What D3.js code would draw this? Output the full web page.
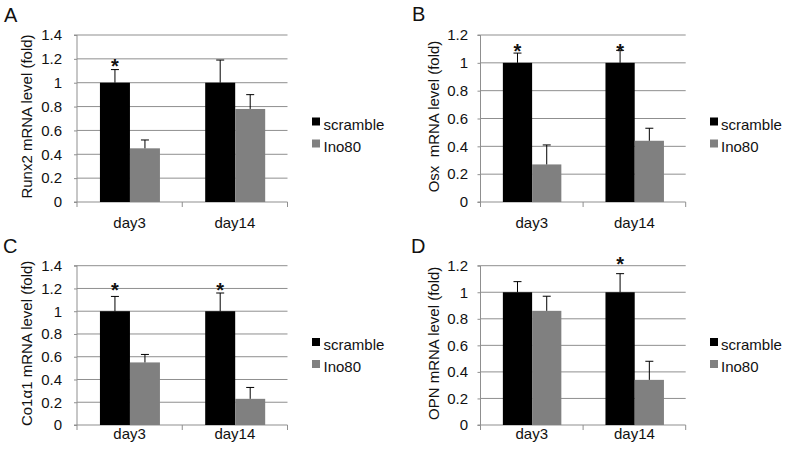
<!DOCTYPE html>
<html>
<head>
<meta charset="utf-8">
<script src="https://cdn.jsdelivr.net/npm/d3@7/dist/d3.min.js"></script>
<style>
  html, body { margin: 0; padding: 0; background: #fff; }
  svg { display: block; }
  text { font-family: "Liberation Sans", Arial, Helvetica, sans-serif; fill: #111; }
</style>
</head>
<body>
<svg id="chart" width="787" height="456"></svg>
<script>
// ---------------- DATA ----------------
const categories = ["day3", "day14"];
const seriesNames = ["scramble", "Ino80"];
const panelLetters = ["A", "B", "C", "D"];
const yLabels = ["Runx2 mRNA level (fold)", "Osx  mRNA level (fold)", "Co1\u03b11 mRNA level (fold)", "OPN mRNA level (fold)"];
const yMaxes = [1.4, 1.2, 1.4, 1.2];

const scrambleA = [1.0, 1.0];   const scrambleErrA = [0.11, 0.19];
const ino80A    = [0.45, 0.78]; const ino80ErrA    = [0.07, 0.12];
const scrambleB = [1.0, 1.0];   const scrambleErrB = [0.07, 0.09];
const ino80B    = [0.27, 0.44]; const ino80ErrB    = [0.14, 0.09];
const scrambleC = [1.0, 1.0];   const scrambleErrC = [0.13, 0.16];
const ino80C    = [0.55, 0.23]; const ino80ErrC    = [0.07, 0.10];
const scrambleD = [1.0, 1.0];   const scrambleErrD = [0.08, 0.14];
const ino80D    = [0.86, 0.34]; const ino80ErrD    = [0.11, 0.14];

// significance asterisks over the scramble bar, per category
const starsA = [true, false];
const starsB = [true, true];
const starsC = [true, true];
const starsD = [false, true];
// height (data units) at which the asterisks sit
const starLevels = [1.18, 1.12, 1.23, 1.25];

// ---------------- LAYOUT / STYLE ----------------
const colors = { scramble: "#000000", Ino80: "#808080" };
const gridColor = "#8f8f8f";

const layouts = [
  { left: 77,    right: 287.5, top: 35,    bottom: 202, ylabX: 32,  tickEnd: 62,  letter: [4, 21.5],  xlabY: 228, legSq: 312, legTx: 323.5, legY: [129.5, 151.5] },
  { left: 480.5, right: 685.7, top: 35,    bottom: 202, ylabX: 439, tickEnd: 468, letter: [412, 20.5], xlabY: 228, legSq: 710, legTx: 721,   legY: [129.5, 151.5] },
  { left: 77,    right: 287.5, top: 265.7, bottom: 425, ylabX: 32,  tickEnd: 62,  letter: [3, 253],   xlabY: 439, legSq: 312, legTx: 323.5, legY: [350, 372] },
  { left: 480.5, right: 685.7, top: 265.7, bottom: 425, ylabX: 439, tickEnd: 468, letter: [411, 253], xlabY: 439, legSq: 710, legTx: 721,   legY: [350, 372] }
];

const panelData = [
  { s: scrambleA, se: scrambleErrA, i: ino80A, ie: ino80ErrA, stars: starsA },
  { s: scrambleB, se: scrambleErrB, i: ino80B, ie: ino80ErrB, stars: starsB },
  { s: scrambleC, se: scrambleErrC, i: ino80C, ie: ino80ErrC, stars: starsC },
  { s: scrambleD, se: scrambleErrD, i: ino80D, ie: ino80ErrD, stars: starsD }
];

const svg = d3.select("#chart");

panelData.forEach((pd, pi) => {
  const L = layouts[pi];
  const g = svg.append("g");
  const yMax = yMaxes[pi];

  const y = d3.scaleLinear().domain([0, yMax]).range([L.bottom, L.top]);
  const x = d3.scaleBand().domain(categories).range([L.left, L.right]).padding(0);
  const bw = x.bandwidth();
  const xs = d3.scaleBand().domain(seriesNames).range([bw * 0.218, bw * 0.788]).padding(0);

  const ticks = d3.range(0, Math.round(yMax / 0.2) + 1).map(k => +(k * 0.2).toFixed(1));

  // gridlines (excluding 0 which is the axis)
  g.selectAll(".grid").data(ticks.filter(t => t > 0)).enter().append("line")
    .attr("x1", L.left).attr("x2", L.right)
    .attr("y1", d => y(d)).attr("y2", d => y(d))
    .attr("stroke", gridColor).attr("stroke-width", 1);

  // y axis via d3.axisLeft
  const yAxis = d3.axisLeft(y).tickValues(ticks).tickSize(3).tickPadding(L.left - L.tickEnd - 3)
    .tickFormat(d3.format("~g"));
  const ya = g.append("g").attr("transform", `translate(${L.left},0)`).call(yAxis);
  ya.select(".domain").attr("stroke", gridColor).attr("d", `M-3,${L.bottom}H0V${L.top}H-3`);
  ya.selectAll(".tick line").attr("stroke", gridColor);
  ya.selectAll(".tick text").attr("font-size", 15).attr("fill", "#111")
    .style("font-family", '"Liberation Sans", Arial, sans-serif');

  // x axis line + ticks at band boundaries
  g.append("line").attr("x1", L.left).attr("x2", L.right)
    .attr("y1", L.bottom).attr("y2", L.bottom).attr("stroke", gridColor);
  const bounds = categories.map(c => x(c)).concat([x(categories[categories.length - 1]) + bw]);
  g.selectAll(".xt").data(bounds).enter().append("line")
    .attr("x1", d => d).attr("x2", d => d)
    .attr("y1", L.bottom).attr("y2", L.bottom + 5).attr("stroke", gridColor);

  // category labels
  g.selectAll(".xl").data(categories).enter().append("text")
    .attr("x", d => x(d) + bw / 2).attr("y", L.xlabY)
    .attr("text-anchor", "middle").attr("font-size", 15).text(d => d);

  // bars
  const rows = [];
  categories.forEach((c, ci) => {
    rows.push({ cat: c, ser: "scramble", v: pd.s[ci], e: pd.se[ci], star: pd.stars[ci] });
    rows.push({ cat: c, ser: "Ino80", v: pd.i[ci], e: pd.ie[ci], star: false });
  });

  g.selectAll(".bar").data(rows).enter().append("rect")
    .attr("x", d => x(d.cat) + xs(d.ser))
    .attr("width", xs.bandwidth())
    .attr("y", d => y(d.v))
    .attr("height", d => L.bottom - y(d.v))
    .attr("fill", d => colors[d.ser]);

  // error bars (upper only)
  const eb = g.selectAll(".eb").data(rows).enter().append("g");
  eb.append("line")
    .attr("x1", d => x(d.cat) + xs(d.ser) + xs.bandwidth() / 2)
    .attr("x2", d => x(d.cat) + xs(d.ser) + xs.bandwidth() / 2)
    .attr("y1", d => y(d.v)).attr("y2", d => y(d.v + d.e))
    .attr("stroke", "#000").attr("stroke-width", 1);
  eb.append("line")
    .attr("x1", d => x(d.cat) + xs(d.ser) + xs.bandwidth() / 2 - 4)
    .attr("x2", d => x(d.cat) + xs(d.ser) + xs.bandwidth() / 2 + 4)
    .attr("y1", d => y(d.v + d.e)).attr("y2", d => y(d.v + d.e))
    .attr("stroke", "#000").attr("stroke-width", 1);

  // asterisks
  g.selectAll(".star").data(rows.filter(r => r.star)).enter().append("text")
    .attr("x", d => x(d.cat) + xs(d.ser) + xs.bandwidth() / 2)
    .attr("y", y(starLevels[pi]) + 11.5)
    .attr("text-anchor", "middle").attr("font-size", 20).attr("font-weight", "bold")
    .text("*");

  // y label
  g.append("text")
    .attr("transform", `translate(${L.ylabX},${(L.top + L.bottom) / 2 - 2}) rotate(-90)`)
    .attr("text-anchor", "middle").attr("font-size", 15)
    .attr("xml:space", "preserve").style("white-space", "pre")
    .text(yLabels[pi]);

  // panel letter
  g.append("text").attr("x", L.letter[0]).attr("y", L.letter[1])
    .attr("font-size", 20).text(panelLetters[pi]);

  // legend
  seriesNames.forEach((s, si) => {
    g.append("rect").attr("x", L.legSq).attr("y", L.legY[si] - 12)
      .attr("width", 8).attr("height", 8).attr("fill", colors[s]);
    g.append("text").attr("x", L.legTx).attr("y", L.legY[si])
      .attr("font-size", 15).text(s);
  });
});
</script>
</body>
</html>
